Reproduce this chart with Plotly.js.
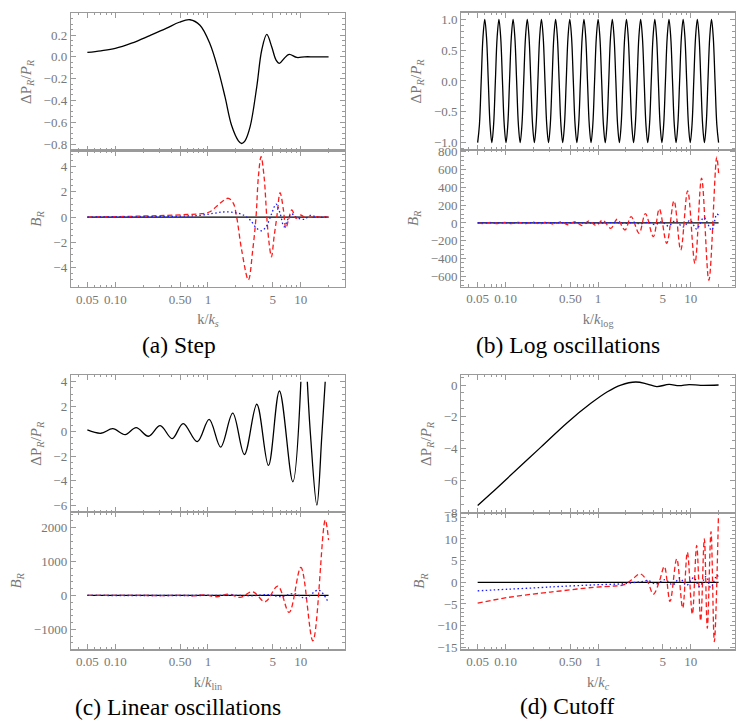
<!DOCTYPE html>
<html>
<head>
<meta charset="utf-8">
<script src="https://cdn.plot.ly/plotly-3.0.1.min.js"></script>
<style>
  body { margin: 0; background: #fff; }
  #plot { width: 747px; height: 721px; }
</style>
</head>
<body>
<div id="plot"></div>
<script>
// ---- shared x ticks (k in units of the feature scale) ----
var kTicks = [0.05, 0.1, 0.5, 1, 5, 10];
var kTickText = ["0.05", "0.10", "0.50", "1", "5", "10"];
var kMinor = [0.04, 0.06, 0.07, 0.08, 0.09, 0.2, 0.3, 0.4, 0.6, 0.7, 0.8, 0.9, 2, 3, 4, 6, 7, 8, 9, 20];

// ---- (a) Step ----
var stepK = [0.05, 0.07, 0.1, 0.15, 0.236, 0.354, 0.49, 0.64, 0.82, 1.05, 1.29, 1.53, 1.8, 2.13, 2.31, 2.51, 2.85, 3.36, 3.8, 4.31, 4.88, 5.43, 5.9, 6.63, 7.51, 9.1, 11, 14, 20];
var stepDP = [0.04, 0.055, 0.077, 0.125, 0.195, 0.26, 0.317, 0.34, 0.29, 0.12, -0.12, -0.37, -0.63, -0.77, -0.795, -0.77, -0.64, -0.275, 0.06, 0.205, 0.09, -0.03, -0.06, -0.015, 0.022, -0.006, 0, 0, 0];
var stepRedK = [0.05, 0.1, 0.2, 0.35, 0.6, 0.82, 1.05, 1.35, 1.66, 1.88, 2.04, 2.31, 2.73, 3.04, 3.3, 3.5, 3.74, 4.03, 4.31, 4.57, 4.84, 5.17, 5.53, 6.0, 6.52, 6.92, 7.38, 8.03, 8.94, 9.88, 11.2, 13, 20];
var stepRed = [0.0, 0.03, 0.08, 0.13, 0.2, 0.25, 0.42, 1.09, 1.49, 1.09, 0, -2.62, -5.0, -2.62, 0, 3.2, 4.79, 3.2, 0, -2.1, -3.16, -1.56, 0, 1.93, 0.56, -0.9, -0.24, 0.56, -0.1, 0.16, -0.03, 0, 0];
var stepBlueK = [0.05, 0.2, 0.59, 0.82, 1.14, 1.46, 1.88, 2.41, 2.85, 3.36, 3.8, 4.24, 4.88, 5.43, 6.0, 6.63, 7.38, 8.03, 9.1, 11.0, 12.7, 15, 20];
var stepBlue = [0, 0.02, 0.08, 0.13, 0.29, 0.4, 0.37, 0.16, -0.24, -0.9, -1.09, -0.77, 0.29, 1.03, 0.29, -0.77, -0.1, 0.24, -0.05, -0.18, 0.13, 0, 0];

// ---- (b) Log oscillations: 17 full cycles, sampled every eighth of a cycle ----
var logK = [0.05, 0.05225, 0.05461, 0.05706, 0.05964, 0.06232, 0.06513, 0.06806, 0.07113, 0.07433,
  0.07768, 0.08118, 0.08484, 0.08866, 0.09265, 0.09682, 0.1012, 0.1058, 0.1105, 0.1155,
  0.1207, 0.1261, 0.1318, 0.1377, 0.1439, 0.1504, 0.1572, 0.1643, 0.1717, 0.1794,
  0.1875, 0.1959, 0.2048, 0.2140, 0.2236, 0.2337, 0.2442, 0.2552, 0.2667, 0.2787,
  0.2913, 0.3044, 0.3181, 0.3324, 0.3474, 0.3631, 0.3794, 0.3965, 0.4143, 0.4330,
  0.4525, 0.4729, 0.4942, 0.5164, 0.5397, 0.5640, 0.5894, 0.6160, 0.6437, 0.6727,
  0.7030, 0.7347, 0.7677, 0.8023, 0.8384, 0.8762, 0.9157, 0.9569, 1.0, 1.045,
  1.092, 1.141, 1.193, 1.246, 1.303, 1.361, 1.423, 1.487, 1.554, 1.623,
  1.697, 1.773, 1.853, 1.936, 2.024, 2.115, 2.210, 2.309, 2.414, 2.522,
  2.636, 2.754, 2.879, 3.008, 3.144, 3.285, 3.433, 3.588, 3.749, 3.918,
  4.095, 4.279, 4.472, 4.673, 4.884, 5.104, 5.334, 5.574, 5.825, 6.087,
  6.361, 6.648, 6.947, 7.260, 7.587, 7.928, 8.286, 8.659, 9.049, 9.456,
  9.882, 10.33, 10.79, 11.28, 11.79, 12.32, 12.87, 13.45, 14.06, 14.69,
  15.35, 16.05, 16.77, 17.52, 18.31, 19.14, 20];
var logDP = [-1, -0.71, 0, 0.71, 1, 0.71, 0, -0.71, -1, -0.71,
  0, 0.71, 1, 0.71, 0, -0.71, -1, -0.71, 0, 0.71,
  1, 0.71, 0, -0.71, -1, -0.71, 0, 0.71, 1, 0.71,
  0, -0.71, -1, -0.71, 0, 0.71, 1, 0.71, 0, -0.71,
  -1, -0.71, 0, 0.71, 1, 0.71, 0, -0.71, -1, -0.71,
  0, 0.71, 1, 0.71, 0, -0.71, -1, -0.71, 0, 0.71,
  1, 0.71, 0, -0.71, -1, -0.71, 0, 0.71, 1, 0.71,
  0, -0.71, -1, -0.71, 0, 0.71, 1, 0.71, 0, -0.71,
  -1, -0.71, 0, 0.71, 1, 0.71, 0, -0.71, -1, -0.71,
  0, 0.71, 1, 0.71, 0, -0.71, -1, -0.71, 0, 0.71,
  1, 0.71, 0, -0.71, -1, -0.71, 0, 0.71, 1, 0.71,
  0, -0.71, -1, -0.71, 0, 0.71, 1, 0.71, 0, -0.71,
  -1, -0.71, 0, 0.71, 1, 0.71, 0, -0.71, -1, -0.71,
  0, 0.71, 1, 0.71, 0, -0.71, -1];
var logRedK = [0.05, 0.058, 0.069, 0.082, 0.098, 0.116, 0.139, 0.165, 0.198, 0.234, 0.281, 0.332, 0.399, 0.471, 0.565, 0.667, 0.80, 0.95, 1.12, 1.37, 1.61, 1.95, 2.27, 2.77, 3.24, 3.95, 4.58, 5.51, 6.6, 7.8, 9.27, 11.1, 13.1, 15.7, 19.1, 20];
var logRed = [-2, -6, 5, -6, 6, -7, 7, -8, 8, -10, 10, -13, 12, -20, 16, -29, 23, -29, 30, -60, 42, -79, 72, -116, 106, -154, 158, -229, 249, -305, 362, -455, 505, -644, 739, 562];
var logBlueK = [0.05, 0.5, 1.0, 1.5, 2.0, 2.45, 2.84, 3.49, 4.12, 4.86, 5.74, 6.78, 8.32, 9.82, 11.6, 13.9, 16.8, 19.1, 20];
var logBlue = [0, 2, -3, 4, -5, 6, -10, 8, -20, 15, -35, 22, -45, 30, -68, 61, -82, 98, 90];

// ---- (c) Linear oscillations (top curve is clipped at 4) ----
var linK = [0.05, 0.07, 0.094, 0.128, 0.168, 0.228, 0.305, 0.411, 0.54, 0.767, 1.03, 1.37, 1.85, 2.47, 3.36, 4.49, 5.9, 8.23, 10.05, null, 11.8, 12.8, 14.96, 16.9, 18.4];
var linDP = [0.11, -0.16, 0.21, -0.27, 0.3, -0.40, 0.46, -0.59, 0.62, -0.84, 0.96, -1.27, 1.47, -1.87, 2.18, -2.75, 3.25, -4.07, 4.0, null, 4.0, -0.4, -5.96, -0.4, 4.0];
var linRedK = [0.05, 0.2, 0.37, 0.5, 0.68, 0.93, 1.24, 1.70, 2.22, 3.04, 4.13, 5.67, 7.51, 10.05, 13.55, 18.4, 20];
var linRed = [0, 0, -3, 5, -8, 15, -38, 38, -59, 109, -186, 275, -502, 827, -1338, 2223, 1633];
var linBlueK = [0.05, 1, 2, 3, 4.6, 6.1, 8.5, 11.2, 15.6, 20];
var linBlue = [0, 0, 5, -8, 24, -35, 59, -79, 157, -215];

// ---- (d) Cutoff ----
var cutK = [0.05, 0.07, 0.105, 0.241, 0.467, 0.834, 1.26, 1.76, 2.55, 3.40, 4.30, 5.83, 7.48, 9.59, 12.8, 20];
var cutDP = [-7.57, -6.8, -5.85, -3.9, -2.35, -1.15, -0.42, 0.0, 0.19, 0.06, -0.1, 0.04, -0.04, 0.03, -0.02, 0];
var cutRedK = [0.05, 0.105, 0.241, 0.389, 0.89, 1.5, 1.87, 2.31, 2.84, 3.41, 3.95, 4.58, 5.19, 5.98, 7.06, 8.19, 9.2, 10.41, 11.6, 12.81, 14.03, 15.11, 16.56, 17.99, 19.9];
var cutRed = [-4.8, -3.5, -2.5, -2.0, -1.15, -0.85, -0.6, 0.58, 1.96, 0.2, -2.73, 0.2, 3.65, -4.42, 5.42, -5.96, 6.96, -7.35, 8.5, -8.9, 10.04, -10.6, 11.7, -13.7, 14.8];
var cutBlueK = [0.05, 0.105, 0.241, 0.389, 0.89, 1.95, 2.8, 3.5, 4.2, 5.3, 6.4, 7.6, 9.0, 10.8, 12.4, 14.7, 16.4, 19.2, 20];
var cutBlue = [-1.96, -1.6, -1.2, -0.95, -0.6, -0.3, 0.1, 0.35, -0.4, 0.6, -0.6, 1.0, -0.7, 1.1, -1.0, 1.35, -1.2, 1.6, 1.2];

var flatK = [0.05, 20];
var flatZero = [0, 0];

var grey = "#9a9a9a";
var labelGrey = "#777777";
// multi-word family names get lost in this setup, the generic one maps to Liberation Serif
var serif = "serif";

function curve(x, y, xa, ya, color, dash) {
  return {
    x: x, y: y, xaxis: xa, yaxis: ya, type: "scatter", mode: "lines",
    line: { color: color, width: 1.3, dash: dash || "solid", shape: "spline", smoothing: 1 },
    hoverinfo: "skip", showlegend: false
  };
}

function xAxis(domain, anchor, title) {
  var ax = {
    type: "log", domain: domain, anchor: anchor, range: [-1.478, 1.478],
    tickmode: "array", tickvals: kTicks, ticktext: kTickText,
    showticklabels: !!title,
    ticks: "inside", ticklen: 5, tickwidth: 1, tickcolor: grey,
    minor: { tickmode: "array", tickvals: kMinor, ticks: "inside", ticklen: 2.5, tickcolor: grey },
    showline: true, linecolor: grey, linewidth: 1.2, mirror: "allticks",
    showgrid: false, zeroline: false,
    tickfont: { family: serif, size: 13, color: labelGrey }
  };
  if (title) ax.title = { text: title, font: { family: serif, size: 14.5, color: labelGrey }, standoff: 8 };
  return ax;
}

function yAxis(domain, anchor, range, ticks, minorStep, fmt, title) {
  return {
    domain: domain, anchor: anchor, range: range,
    tickmode: "array", tickvals: ticks, tickformat: fmt,
    ticks: "inside", ticklen: 5, tickwidth: 1, tickcolor: grey,
    minor: { tickmode: "linear", tick0: 0, dtick: minorStep, ticks: "inside", ticklen: 2.5, tickcolor: grey },
    showline: true, linecolor: grey, linewidth: 1.2, mirror: "allticks",
    showgrid: false, zeroline: false,
    tickfont: { family: serif, size: 13, color: labelGrey },
    title: { text: title, font: { family: serif, size: 15, color: labelGrey }, standoff: 8 }
  };
}

var dpTitle = "ΔP<sub><i>R</i></sub>/<i>P<sub>R</sub></i>";
var bTitle = "<i>B<sub>R</sub></i>";
var left = [0.0950, 0.4618];
var right = [0.6175, 0.9839];

var data = [
  curve(stepK, stepDP, "x", "y", "#000"),
  curve(flatK, flatZero, "x2", "y2", "#000"),
  curve(stepRedK, stepRed, "x2", "y2", "#ff1a1a", "5px,3px"),
  curve(stepBlueK, stepBlue, "x2", "y2", "#1a1aff", "1.5px,2.5px"),

  curve(logK, logDP, "x3", "y3", "#000"),
  curve(flatK, flatZero, "x4", "y4", "#000"),
  curve(logRedK, logRed, "x4", "y4", "#ff1a1a", "5px,3px"),
  curve(logBlueK, logBlue, "x4", "y4", "#1a1aff", "1.5px,2.5px"),

  curve(linK, linDP, "x5", "y5", "#000"),
  curve(flatK, flatZero, "x6", "y6", "#000"),
  curve(linRedK, linRed, "x6", "y6", "#ff1a1a", "5px,3px"),
  curve(linBlueK, linBlue, "x6", "y6", "#1a1aff", "1.5px,2.5px"),

  curve(cutK, cutDP, "x7", "y7", "#000"),
  curve(flatK, flatZero, "x8", "y8", "#000"),
  curve(cutRedK, cutRed, "x8", "y8", "#ff1a1a", "5px,3px"),
  curve(cutBlueK, cutBlue, "x8", "y8", "#1a1aff", "1.5px,2.5px")
];

function caption(text, px, py) {
  return {
    text: text, xref: "paper", yref: "paper", x: px / 747, y: 1 - py / 721,
    xanchor: "center", yanchor: "middle", showarrow: false,
    font: { family: serif, size: 23.5, color: "#000" }
  };
}

var layout = {
  width: 747,
  height: 721,
  margin: { l: 0, r: 0, t: 0, b: 0 },
  paper_bgcolor: "#fff",
  plot_bgcolor: "#fff",
  font: { family: serif },
  showlegend: false,
  hovermode: false,

  xaxis: xAxis(left, "y"),
  yaxis: yAxis([0.7910, 0.9820], "x", [-0.861, 0.402], [-0.8, -0.6, -0.4, -0.2, 0, 0.2], 0.05, ".1f", dpTitle),
  xaxis2: xAxis(left, "y2", "k/<i>k<sub>s</sub></i>"),
  yaxis2: yAxis([0.6019, 0.7910], "x2", [-5.56, 5.27], [-4, -2, 0, 2, 4], 0.5, "d", bTitle),

  xaxis3: xAxis(right, "y3"),
  yaxis3: yAxis([0.7920, 0.9824], "x3", [-1.118, 1.107], [-1, -0.5, 0, 0.5, 1], 0.1, ".1f", dpTitle),
  xaxis4: xAxis(right, "y4", "k/<i>k</i><sub>log</sub>"),
  yaxis4: yAxis([0.6026, 0.7920], "x4", [-715, 821], [-600, -400, -200, 0, 200, 400, 600, 800], 50, "d", bTitle),

  xaxis5: xAxis(left, "y5"),
  yaxis5: yAxis([0.2895, 0.4799], "x5", [-6.53, 4.54], [-6, -4, -2, 0, 2, 4], 0.5, "d", dpTitle),
  xaxis6: xAxis(left, "y6", "k/<i>k</i><sub>lin</sub>"),
  yaxis6: yAxis([0.0994, 0.2895], "x6", [-1590, 2455], [-1000, 0, 1000, 2000], 200, "d", bTitle),

  xaxis7: xAxis(right, "y7"),
  yaxis7: yAxis([0.2889, 0.4799], "x7", [-8.02, 0.63], [-8, -6, -4, -2, 0], 0.5, "d", dpTitle),
  xaxis8: xAxis(right, "y8", "k/<i>k<sub>c</sub></i>"),
  yaxis8: yAxis([0.0994, 0.2889], "x8", [-15.46, 16.06], [-15, -10, -5, 0, 5, 10, 15], 1, "d", bTitle),

  annotations: [
    caption("(a) Step", 178.7, 345),
    caption("(b) Log oscillations", 567.7, 345),
    caption("(c) Linear oscillations", 178.3, 706.5),
    caption("(d) Cutoff", 567.3, 706)
  ]
};

Plotly.newPlot("plot", data, layout, { staticPlot: true, displayModeBar: false });
</script>
</body>
</html>
